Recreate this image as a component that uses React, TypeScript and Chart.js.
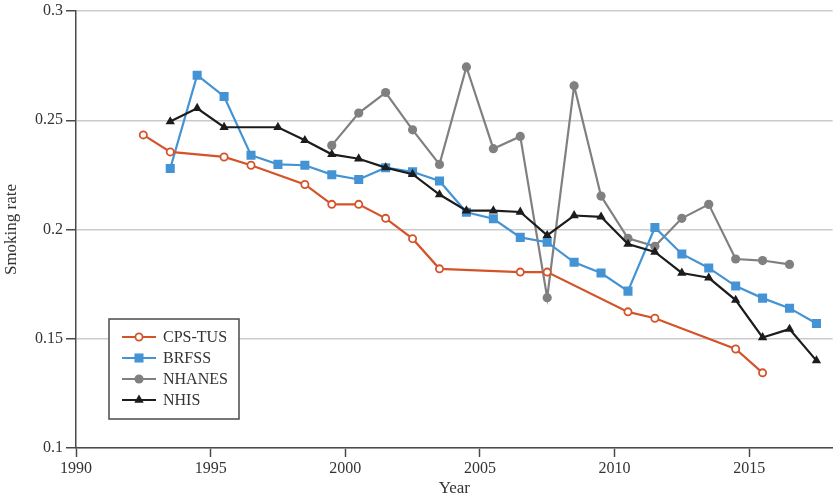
import { useEffect, useRef } from "react"
import { Chart, registerables } from "chart.js"
import { drawPoint } from "chart.js/helpers"

Chart.register(...registerables)

// mid-year survey points
const cpsYears = [1992.5, 1993.5, 1995.5, 1996.5, 1998.5, 1999.5, 2000.5, 2001.5, 2002.5, 2003.5, 2006.5, 2007.5, 2010.5, 2011.5, 2014.5, 2015.5]
const cpsRates = [0.2433, 0.2355, 0.2332, 0.2294, 0.2206, 0.2115, 0.2115, 0.2051, 0.1958, 0.182, 0.1805, 0.1805, 0.1623, 0.1594, 0.1453, 0.1344]

const brfssYears = [1993.5, 1994.5, 1995.5, 1996.5, 1997.5, 1998.5, 1999.5, 2000.5, 2001.5, 2002.5, 2003.5, 2004.5, 2005.5, 2006.5, 2007.5, 2008.5, 2009.5, 2010.5, 2011.5, 2012.5, 2013.5, 2014.5, 2015.5, 2016.5, 2017.5]
const brfssRates = [0.2279, 0.2706, 0.2609, 0.234, 0.2298, 0.2294, 0.2251, 0.2229, 0.2283, 0.2264, 0.2222, 0.2079, 0.2049, 0.1964, 0.1942, 0.185, 0.1801, 0.1718, 0.2009, 0.1888, 0.1824, 0.1741, 0.1686, 0.164, 0.157]

const nhanesYears = [1999.5, 2000.5, 2001.5, 2002.5, 2003.5, 2004.5, 2005.5, 2006.5, 2007.5, 2008.5, 2009.5, 2010.5, 2011.5, 2012.5, 2013.5, 2014.5, 2015.5, 2016.5]
const nhanesRates = [0.2385, 0.2533, 0.2627, 0.2456, 0.2298, 0.2744, 0.237, 0.2426, 0.1688, 0.2658, 0.2153, 0.196, 0.1923, 0.2051, 0.2115, 0.1865, 0.1858, 0.184]

const nhisYears = [1993.5, 1994.5, 1995.5, 1997.5, 1998.5, 1999.5, 2000.5, 2001.5, 2002.5, 2003.5, 2004.5, 2005.5, 2006.5, 2007.5, 2008.5, 2009.5, 2010.5, 2011.5, 2012.5, 2013.5, 2014.5, 2015.5, 2016.5, 2017.5]
const nhisRates = [0.2494, 0.2555, 0.2468, 0.2468, 0.2408, 0.2344, 0.2324, 0.2283, 0.2253, 0.216, 0.2086, 0.2086, 0.208, 0.1973, 0.2064, 0.2058, 0.1933, 0.1897, 0.1801, 0.1779, 0.1677, 0.1506, 0.1544, 0.14]

const pairs = (xs: number[], ys: number[]) => xs.map((x, i) => ({ x, y: ys[i] }))

const serif = "'Liberation Serif', 'DejaVu Serif', serif"
const textColor = "#333333"
const axisColor = "#4a4a4a"

// legend drawn inside the plot, lower left, with a box round it
const legendBox = {
  id: "legendBox",
  afterDraw(chart: any) {
    const { ctx, chartArea } = chart
    const x = chartArea.left + 33
    const y = chartArea.bottom - 129
    ctx.save()
    ctx.fillStyle = "#ffffff"
    ctx.fillRect(x, y, 130, 100)
    ctx.strokeStyle = axisColor
    ctx.lineWidth = 1.5
    ctx.strokeRect(x, y, 130, 100)
    ctx.font = `16px ${serif}`
    ctx.textBaseline = "middle"
    chart.data.datasets.forEach((ds: any, i: number) => {
      const cy = y + 18 + i * 21
      ctx.strokeStyle = ds.borderColor
      ctx.lineWidth = 2.2
      ctx.beginPath()
      ctx.moveTo(x + 13, cy)
      ctx.lineTo(x + 47, cy)
      ctx.stroke()
      ctx.fillStyle = ds.pointBackgroundColor
      ctx.strokeStyle = ds.pointBorderColor
      ctx.lineWidth = ds.pointBorderWidth
      drawPoint(ctx, { pointStyle: ds.pointStyle, rotation: 0, radius: ds.pointRadius, borderWidth: ds.pointBorderWidth }, x + 30, cy)
      ctx.fillStyle = textColor
      ctx.fillText(ds.label, x + 54, cy + 1)
    })
    ctx.restore()
  },
}

export default function App() {
  const chartRef = useRef<HTMLCanvasElement>(null)
  const chartInstance = useRef<Chart | null>(null)

  useEffect(() => {
    document.body.style.margin = "0"
    if (!chartRef.current) return
    if (chartInstance.current) chartInstance.current.destroy()
    const ctx = chartRef.current.getContext("2d")
    if (!ctx) return

    chartInstance.current = new Chart(ctx, {
      type: "line",
      data: {
        datasets: [
          {
            label: "CPS-TUS",
            data: pairs(cpsYears, cpsRates),
            borderColor: "#d4542a",
            borderWidth: 2.2,
            pointStyle: "circle",
            pointRadius: 3.6,
            pointBorderWidth: 1.8,
            pointBackgroundColor: "#ffffff",
            pointBorderColor: "#d4542a",
            order: 2,
          },
          {
            label: "BRFSS",
            data: pairs(brfssYears, brfssRates),
            borderColor: "#4493d4",
            borderWidth: 2.2,
            pointStyle: "rect",
            pointRadius: 6.4,
            pointBorderWidth: 0,
            pointBackgroundColor: "#4493d4",
            pointBorderColor: "#4493d4",
            order: 3,
          },
          {
            label: "NHANES",
            data: pairs(nhanesYears, nhanesRates),
            borderColor: "#808083",
            borderWidth: 2.2,
            pointStyle: "circle",
            pointRadius: 4.6,
            pointBorderWidth: 0,
            pointBackgroundColor: "#808083",
            pointBorderColor: "#808083",
            order: 4,
          },
          {
            label: "NHIS",
            data: pairs(nhisYears, nhisRates),
            borderColor: "#1c1c1c",
            borderWidth: 2.2,
            pointStyle: "triangle",
            pointRadius: 5.4,
            pointBorderWidth: 0,
            pointBackgroundColor: "#1c1c1c",
            pointBorderColor: "#1c1c1c",
            order: 1,
          },
        ],
      },
      options: {
        animation: false,
        responsive: true,
        maintainAspectRatio: false,
        layout: { padding: { top: 0, right: 3, left: 0, bottom: 0 } },
        plugins: {
          legend: { display: false },
          tooltip: { enabled: false },
        },
        scales: {
          x: {
            type: "linear",
            min: 1990,
            max: 2018.1,
            afterFit: (scale: any) => {
              scale.height = 49
            },
            border: { color: axisColor, width: 1.5 },
            grid: { drawOnChartArea: false, drawTicks: true, tickLength: 9, tickColor: axisColor, tickWidth: 1.5 },
            ticks: {
              stepSize: 5,
              includeBounds: false,
              padding: 2,
              color: textColor,
              font: { family: serif, size: 16 },
              callback: (v: any) => String(v),
            },
            title: {
              display: true,
              text: "Year",
              color: textColor,
              font: { family: serif, size: 17, lineHeight: 1 },
              padding: { top: 0, bottom: 0 },
            },
          },
          y: {
            min: 0.1,
            max: 0.3,
            afterFit: (scale: any) => {
              scale.width = 76
            },
            border: { color: axisColor, width: 1.5 },
            grid: { color: "#cbcbcb", lineWidth: 1.5, drawTicks: true, tickLength: 10, tickColor: axisColor, tickWidth: 1.5 },
            ticks: {
              stepSize: 0.05,
              padding: 3,
              color: textColor,
              font: { family: serif, size: 16, lineHeight: 1 },
              callback: (v: any) => String(+Number(v).toFixed(2)),
            },
            title: {
              display: true,
              text: "Smoking rate",
              color: textColor,
              font: { family: serif, size: 17, lineHeight: 1 },
              padding: { top: 3.5, bottom: 0 },
            },
          },
        },
      },
      plugins: [legendBox],
    })

    return () => {
      if (chartInstance.current) {
        chartInstance.current.destroy()
        chartInstance.current = null
      }
    }
  }, [])

  return (
    <div style={{ width: 839, height: 497, position: "relative" }}>
      <canvas ref={chartRef}></canvas>
    </div>
  )
}
